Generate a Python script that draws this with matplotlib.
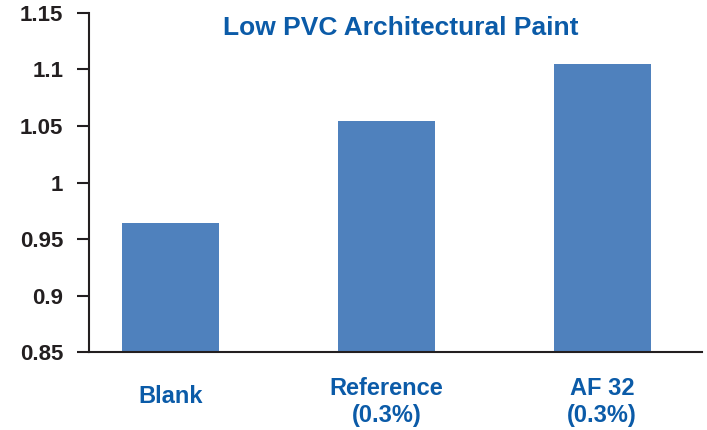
#!/usr/bin/env python3
"""Low PVC architectural paint bar chart."""

import matplotlib.pyplot as plt
from matplotlib.transforms import ScaledTranslation

categories = ["Blank", "Reference\n(0.3%)", "AF 32\n(0.3%)"]
values = [0.964, 1.054, 1.105]
yticks = [0.85, 0.9, 0.95, 1.0, 1.05, 1.1, 1.15]
ytick_labels = ["0.85", "0.9", "0.95", "1", "1.05", "1.1", "1.15"]

plt.rcParams["font.family"] = ["Liberation Sans", "DejaVu Sans"]

BLUE_TEXT = "#0B5BA8"
BAR = "#4F81BD"
DARK = "#231F20"

fig = plt.figure(figsize=(7.07, 4.30), dpi=100)
ax = fig.add_axes([0.126, 0.181, 0.867, 0.789])

x = list(range(len(categories)))
ax.bar(x, values, width=0.45, color=BAR, bottom=0, zorder=2)

ax.set_ylim(0.85, 1.15)
ax.set_xlim(-0.38, 2.464)
ax.set_yticks(yticks)
ax.set_yticklabels(ytick_labels, fontsize=16, fontweight="bold", color=DARK)
ax.set_xticks(x)
ax.set_xticklabels(categories, fontsize=17, fontweight="bold", color=BLUE_TEXT,
                   linespacing=1.2)

ax.tick_params(axis="y", length=8.5, width=1.5, color=DARK, pad=10)
ax.tick_params(axis="x", length=0, pad=18)

# single-line label sits a bit lower than the two-line ones
for lbl in ax.get_xticklabels():
    if "\n" not in lbl.get_text():
        lbl.set_transform(lbl.get_transform()
                          + ScaledTranslation(0, -8 / 100, fig.dpi_scale_trans))

for side in ("top", "right"):
    ax.spines[side].set_visible(False)
for side in ("left", "bottom"):
    ax.spines[side].set_linewidth(1.5)
    ax.spines[side].set_color(DARK)

ax.text(0.509, 0.955, "Low PVC Architectural Paint", transform=ax.transAxes,
        ha="center", va="center", fontsize=19, fontweight="bold", color=BLUE_TEXT)

fig.savefig("out.png", dpi=100)
